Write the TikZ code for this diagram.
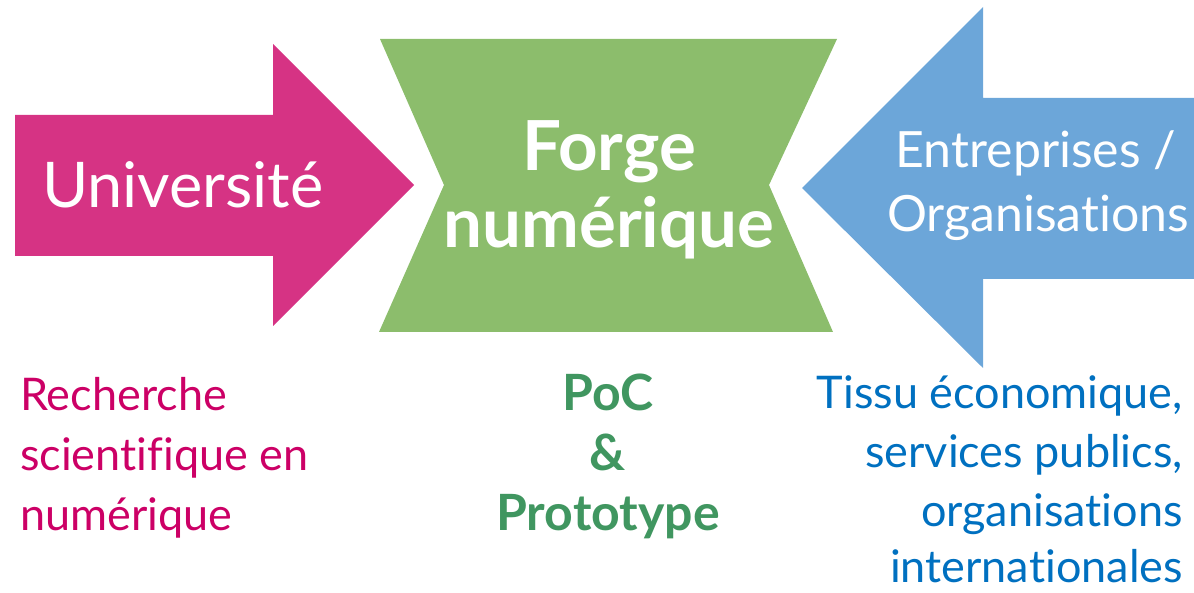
\documentclass[tikz,border=0pt]{standalone}
\usepackage{fontspec}
\setmainfont{Lato}[Ligatures=NoCommon]
\usepackage{xcolor}
\usetikzlibrary{positioning}
\definecolor{unipink}{RGB}{214,51,132}
\definecolor{forgegreen}{RGB}{140,189,108}
\definecolor{orgblue}{RGB}{108,166,217}
\definecolor{unitext}{RGB}{204,0,102}
\definecolor{forgetext}{RGB}{64,150,96}
\definecolor{orgtext}{RGB}{0,112,192}
\tikzset{big label/.style = {text=white,inner sep=0pt}}

\begin{document}
\begin{tikzpicture}[x=1pt,y=-1pt,
    small label/.style={inner sep=0pt,font=\fontsize{45}{45}\selectfont},
    uni label/.style={small label,text=unitext,anchor=base west},
    forge label/.style={small label,text=forgetext,anchor=base,font=\fontsize{50}{50}\selectfont\bfseries},
    org label/.style={small label,text=orgtext,anchor=base east}]
                \useasboundingbox (0,0) rectangle (1194,593);

                % arrows and forge
                \fill[unipink] (15,115) -- (273,115) -- (273,44) -- (414,185) -- (273,326) -- (273,256) -- (15,256) -- cycle;
                \fill[forgegreen] (380,39) -- (837,39) -- (769,185) -- (833,332) -- (379,332) -- (444,185) -- cycle;
                \fill[orgblue] (1194,98) -- (983,98) -- (983,7) -- (802,188) -- (983,368) -- (983,279) -- (1194,279) -- cycle;

                \node[big label,anchor=base west,font=\fontsize{63}{63}\selectfont] (uni) at (42,208) {Université};
                \node[big label,anchor=base,font=\fontsize{69}{69}\selectfont\bfseries] (forge) at (609,171) {Forge};
                \node[big label,anchor=base,font=\fontsize{69}{69}\selectfont\bfseries] (num) at (609,248) {numérique};
                \node[big label,anchor=base,font=\fontsize{50}{50}\selectfont] (entr) at (1036,168) {Entreprises /};
                \node[big label,anchor=base,font=\fontsize{50}{50}\selectfont] (orga) at (1038,232) {Organisations};

                % texts below
                \node[uni label] (rech) at (20,410) {Recherche};
                \node[uni label] (scien) at (20,470) {scientifique en};
                \node[uni label] (numer) at (20,530) {numérique};

                \node[forge label] (poc) at (608,410) {PoC};
                \node[forge label] (and) at (608,470) {\&};
                \node[forge label] (proto) at (608,530) {Prototype};

                \node[org label] (tissu) at (1183,408) {Tissu économique,};
                \node[org label] (serv) at (1183,467) {services publics,};
                \node[org label] (orgs) at (1183,526) {organisations};
                \node[org label] (inter) at (1183,582) {internationales};
            \end{tikzpicture}
\end{document}
